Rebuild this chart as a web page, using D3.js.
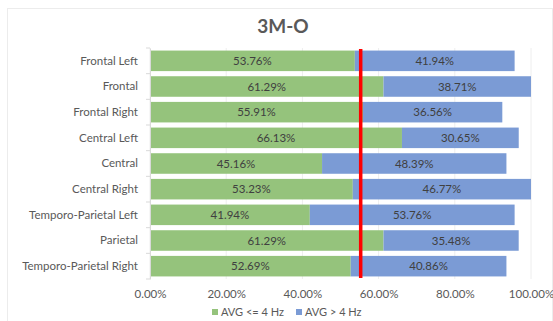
<!DOCTYPE html>
<html>
<head>
<meta charset="utf-8">
<script src="https://cdn.jsdelivr.net/npm/d3@7/dist/d3.min.js"></script>
<style>
  html, body { margin: 0; padding: 0; background: #fff; }
  svg { display: block; font-family: Lato, "Open Sans", sans-serif; }
</style>
</head>
<body>
<svg id="chart" width="553" height="321"></svg>
<script>
// Regions and the share of each frequency band
const regions = ["Frontal Left", "Frontal", "Frontal Right", "Central Left", "Central",
  "Central Right", "Temporo-Parietal Left", "Parietal", "Temporo-Parietal Right"];
const lowBand = [53.76, 61.29, 55.91, 66.13, 45.16, 53.23, 41.94, 61.29, 52.69];
const highBand = [41.94, 38.71, 36.56, 30.65, 48.39, 46.77, 53.76, 35.48, 40.86];
const seriesNames = ["AVG <= 4 Hz", "AVG > 4 Hz"];
const xTicks = [0, 20, 40, 60, 80, 100];
const referenceLine = 55.3;
const chartTitle = "3M-O";

const colors = ["#95c37c", "#7b9bd5"];
const textColor = "#595959";

const svg = d3.select("#chart");
const margin = { left: 150, right: 22, top: 48, bottom: 42 };
const W = 553, H = 321;

// faint frame around the chart area
svg.append("rect").attr("x", 7.5).attr("y", 8.5).attr("width", W - 8).attr("height", H - 8)
  .attr("fill", "none").attr("stroke", "#ececec");

const x = d3.scaleLinear().domain([0, 100]).range([margin.left, W - margin.right]);
const y = d3.scaleBand().domain(regions).range([margin.top, H - margin.bottom]).paddingInner(0.2).paddingOuter(0.1);

// vertical gridlines
svg.append("g").selectAll("line").data(xTicks).join("line")
  .attr("x1", d => x(d)).attr("x2", d => x(d))
  .attr("y1", margin.top).attr("y2", H - margin.bottom)
  .attr("stroke", "#eeeeee").attr("stroke-width", 1);

const rows = regions.map((r, i) => ({ region: r, low: lowBand[i], high: highBand[i] }));

// stacked bars
const g = svg.append("g");
rows.forEach(d => {
  g.append("rect").attr("x", x(0)).attr("y", y(d.region))
    .attr("width", x(d.low) - x(0)).attr("height", y.bandwidth()).attr("fill", colors[0]);
  g.append("rect").attr("x", x(d.low)).attr("y", y(d.region))
    .attr("width", x(d.low + d.high) - x(d.low)).attr("height", y.bandwidth()).attr("fill", colors[1]);
  g.append("text").attr("x", (x(0) + x(d.low)) / 2).attr("y", y(d.region) + y.bandwidth() / 2)
    .attr("dy", "0.35em").attr("text-anchor", "middle").attr("font-size", 11.5).attr("fill", "#404040")
    .text(d.low.toFixed(2) + "%");
  g.append("text").attr("x", (x(d.low) + x(d.low + d.high)) / 2).attr("y", y(d.region) + y.bandwidth() / 2)
    .attr("dy", "0.35em").attr("text-anchor", "middle").attr("font-size", 11.5).attr("fill", "#404040")
    .text(d.high.toFixed(2) + "%");
});

// category axis
const yAxis = svg.append("g").attr("transform", `translate(${margin.left},0)`)
  .call(d3.axisLeft(y).tickSize(0).tickPadding(12));
yAxis.select(".domain").attr("stroke", "#d9d9d9");
yAxis.selectAll("text").attr("font-size", 11.5).attr("fill", textColor).attr("font-family", "Lato, sans-serif");
// small separators between categories
const step = y.step();
svg.append("g").selectAll("line").data(d3.range(regions.length + 1)).join("line")
  .attr("x1", margin.left - 4).attr("x2", margin.left)
  .attr("y1", i => y(regions[0]) - y.paddingInner() * step / 2 + i * step)
  .attr("y2", i => y(regions[0]) - y.paddingInner() * step / 2 + i * step)
  .attr("stroke", "#d9d9d9");

// value axis
const xAxis = svg.append("g").attr("transform", `translate(0,${H - margin.bottom})`)
  .call(d3.axisBottom(x).tickValues(xTicks).tickSize(0).tickPadding(11).tickFormat(d => d.toFixed(2) + "%"));
xAxis.select(".domain").remove();
xAxis.selectAll("text").attr("font-size", 11.5).attr("fill", textColor).attr("font-family", "Lato, sans-serif");

// reference line
svg.append("line").attr("x1", x(referenceLine)).attr("x2", x(referenceLine))
  .attr("y1", margin.top + 1).attr("y2", H - margin.bottom - 1)
  .attr("stroke", "#ff0000").attr("stroke-width", 3.5);

// title
svg.append("text").attr("x", 283).attr("y", 33).attr("text-anchor", "middle")
  .attr("font-size", 19).attr("font-weight", "bold").attr("fill", textColor).text(chartTitle);

// legend
const legendX = [212, 296];
seriesNames.forEach((name, i) => {
  svg.append("rect").attr("x", legendX[i]).attr("y", 309).attr("width", 6).attr("height", 6).attr("fill", colors[i]);
  svg.append("text").attr("x", legendX[i] + 9).attr("y", 312).attr("dy", "0.35em")
    .attr("font-size", 11).attr("fill", textColor).text(name);
});
</script>
</body>
</html>
